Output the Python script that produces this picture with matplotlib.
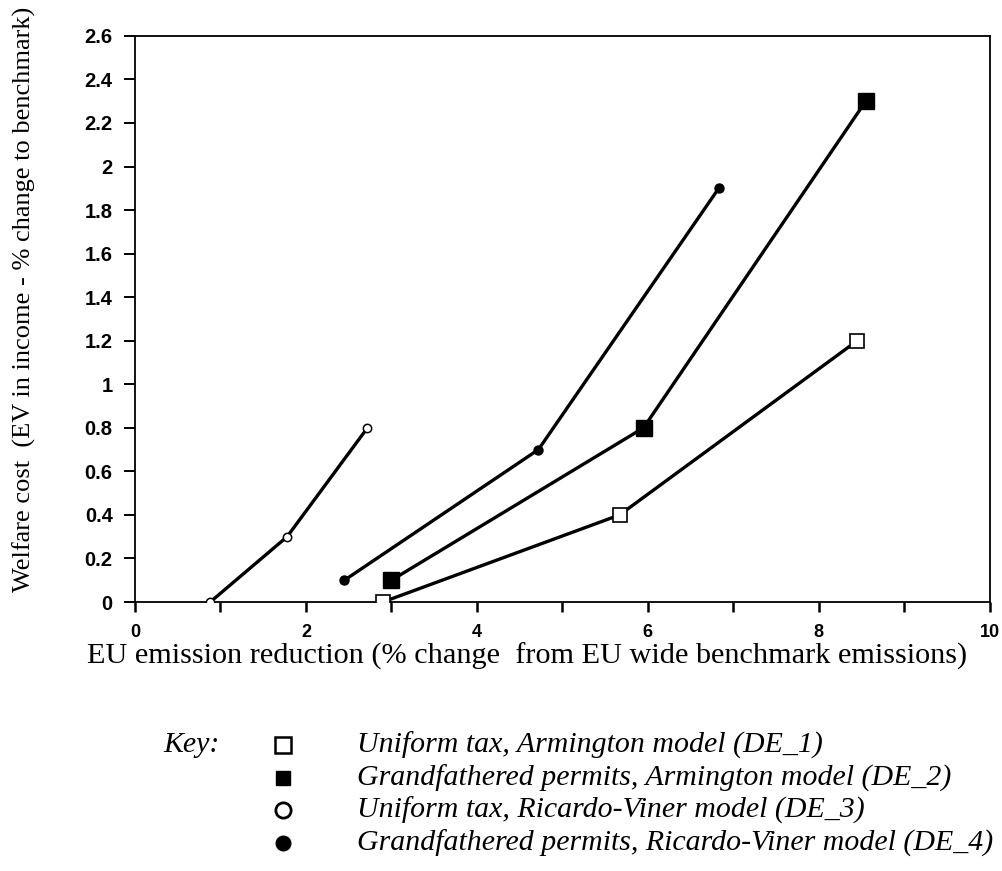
import matplotlib
matplotlib.use("Agg")
import matplotlib.pyplot as plt
from matplotlib.ticker import MultipleLocator, FuncFormatter
from matplotlib.lines import Line2D

# Data
de1_x = [2.9, 5.67, 8.45]
de1_y = [0.0, 0.4, 1.2]
de2_x = [3.0, 5.95, 8.55]
de2_y = [0.1, 0.8, 2.3]
de3_x = [0.88, 1.78, 2.72]
de3_y = [0.0, 0.3, 0.8]
de4_x = [2.45, 4.72, 6.83]
de4_y = [0.1, 0.7, 1.9]

labels = ["Uniform tax, Armington model (DE_1)",
          "Grandfathered permits, Armington model (DE_2)",
          "Uniform tax, Ricardo-Viner model (DE_3)",
          "Grandfathered permits, Ricardo-Viner model (DE_4)"]

W, H = 1002, 871
fig = plt.figure(figsize=(W/100, H/100), dpi=100)
ax = fig.add_axes([0.1347, 0.3088, 0.853, 0.65])

lw = 2.4
ax.plot(de3_x, de3_y, color="black", lw=lw, marker="o", ms=6, mfc="white", mec="black", mew=1.1, zorder=3)
ax.plot(de4_x, de4_y, color="black", lw=lw, marker="o", ms=6.5, mfc="black", mec="black", zorder=3)
ax.plot(de2_x, de2_y, color="black", lw=lw, marker="s", ms=11, mfc="black", mec="black", zorder=3)
ax.plot(de1_x, de1_y, color="black", lw=lw, marker="s", ms=10.5, mfc="white", mec="black", mew=1.2, zorder=3)

ax.set_xlim(0, 10)
ax.set_ylim(0, 2.6)
ax.xaxis.set_major_locator(MultipleLocator(1))
ax.xaxis.set_major_formatter(FuncFormatter(lambda v, p: f"{int(round(v))}" if int(round(v)) % 2 == 0 else ""))
ax.yaxis.set_major_locator(MultipleLocator(0.2))
ax.yaxis.set_major_formatter(FuncFormatter(lambda v, p: f"{v:.1f}".rstrip("0").rstrip(".") if abs(v) > 1e-9 else "0"))

for lab in ax.get_xticklabels():
    lab.set_fontfamily("Liberation Sans")
    lab.set_fontweight("bold")
    lab.set_fontsize(13)
for lab in ax.get_yticklabels():
    lab.set_fontfamily("Liberation Sans")
    lab.set_fontweight("bold")
    lab.set_fontsize(14.5)
ax.tick_params(axis="x", direction="out", length=7, width=1.8, pad=9)
ax.tick_params(axis="y", direction="out", length=8, width=1.4, pad=8)
for s in ax.spines.values():
    s.set_linewidth(1.3)

fig.text(527/W, 1-656/H, "EU emission reduction (% change  from EU wide benchmark emissions)",
         fontfamily="Liberation Serif", fontsize=21.8, ha="center", va="center")
fig.text(24/W, 1-299/H, "Welfare cost  (EV in income - % change to benchmark)",
         fontfamily="Liberation Serif", fontsize=19, ha="center", va="center", rotation=90)

# Key
fig.text(163/W, 1-745/H, "Key:", fontfamily="Liberation Serif", style="italic",
         fontsize=21.5, va="center", ha="left")
ys = [745, 778, 810, 843]
styles = [dict(marker="s", ms=12, mfc="white", mec="black", mew=1.8),
          dict(marker="s", ms=10, mfc="black", mec="black"),
          dict(marker="o", ms=11, mfc="white", mec="black", mew=2.0),
          dict(marker="o", ms=10.5, mfc="black", mec="black")]
for yp, st, lab in zip(ys, styles, labels):
    fig.add_artist(Line2D([283/W], [1-yp/H], transform=fig.transFigure, ls="none", **st))
    fig.text(357/W, 1-yp/H, lab, fontfamily="Liberation Serif", style="italic",
             fontsize=21.5, va="center", ha="left")

fig.savefig("out.png", dpi=100)
